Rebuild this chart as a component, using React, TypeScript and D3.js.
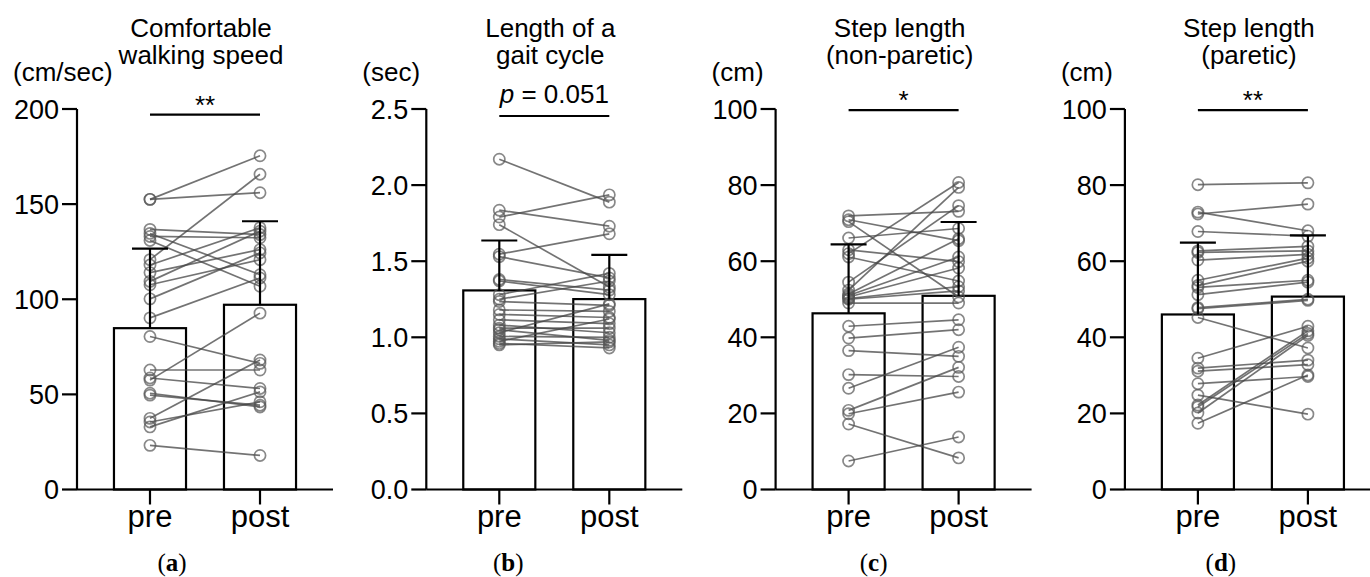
import React from "react";
import * as d3 from "d3";

// groups on the x axis
const groups = ["pre", "post"];

// (a) comfortable walking speed, cm/sec, one entry per subject
const speedPre = [152.5, 152.5, 136.7, 134.6, 133, 130.9, 120.8, 118, 114, 109.4, 107.6, 100.2, 90.2, 80.4, 62.8, 58.6, 57.5, 50.6, 49.6, 37.4, 35.5, 32.9, 23.2];
const speedPost = [175.4, 156, 134, 112.9, 132.3, 106.8, 165.7, 137.6, 126.1, 135.8, 120.8, 124.4, 111.2, 66.3, 62.8, 53.1, 92.7, 43.4, 44.3, 68.1, 46.1, 51.3, 17.9];

// (b) length of a gait cycle, sec
const gaitPre = [2.17, 1.835, 1.79, 1.74, 1.546, 1.53, 1.38, 1.37, 1.28, 1.25, 1.235, 1.18, 1.15, 1.115, 1.08, 1.06, 1.05, 1.03, 1.006, 0.99, 0.973, 0.96, 0.95];
const gaitPost = [1.888, 1.73, 1.936, 1.33, 1.68, 1.39, 1.31, 1.28, 1.42, 1.37, 1.21, 1.17, 1.13, 1.09, 1.03, 1.06, 0.98, 1.22, 1.0, 0.95, 1.12, 0.93, 0.97];

// (c) step length, non-paretic side, cm
const nonParPre = [71.9, 70.9, 70.4, 66.1, 63, 62, 61.1, 54.5, 52.4, 51.4, 51, 50.6, 50.2, 50, 49, 42.9, 39.8, 36.5, 30.2, 26.6, 20.8, 19.9, 17.2, 7.5];
const nonParPost = [73.1, 65.4, 50.6, 68.6, 59.9, 80.7, 54.8, 74.6, 79.4, 65.9, 61.1, 58.2, 53.3, 52.2, 49, 44.6, 42, 35, 29.7, 37.4, 32.1, 25.6, 8.3, 13.8];

// (d) step length, paretic side, cm
const parPre = [80.1, 72.9, 72.4, 67.8, 62.7, 62.3, 60.3, 55, 53.6, 53.1, 51.2, 47.8, 47.5, 45.2, 34.5, 31.9, 31.1, 27.8, 24.8, 22.2, 21.7, 20.1, 17.4];
const parPost = [80.6, 68, 75, 66.6, 63.9, 62.7, 61.8, 60.8, 60, 55, 54.5, 50, 49.7, 37.2, 42.9, 34, 32.8, 29.7, 19.8, 41.7, 41, 40.5, 30.1];

// bar heights (mean) and upper error bars (SD)
const means = [[84.8, 97.1], [1.308, 1.251], [46.3, 50.9], [46, 50.7]];
const sds = [[41.8, 43.9], [0.328, 0.291], [18.1, 19.4], [18.9, 16.1]];

const titles = [
  ["Comfortable", "walking speed"],
  ["Length of a", "gait cycle"],
  ["Step length", "(non-paretic)"],
  ["Step length", "(paretic)"],
];
const units = ["(cm/sec)", "(sec)", "(cm)", "(cm)"];
const yMax = [200, 2.5, 100, 100];
const yStep = [50, 0.5, 20, 20];
const tickDecimals = [0, 1, 0, 0];
const sigText = ["**", "p = 0.051", "*", "**"];
const sigLevel = [197, 2.454, 99.7, 99.7];
const tags = ["a", "b", "c", "d"];

const panelData = [
  [speedPre, speedPost],
  [gaitPre, gaitPost],
  [nonParPre, nonParPost],
  [parPre, parPost],
];

const W = 1370;
const H = 577;
const sans = "'Liberation Sans', Arial, sans-serif";

function Panel({ i }: { i: number }) {
  const x0 = 77 + i * 349.3;
  const axisW = 256;
  const x = d3.scaleBand().domain(groups).range([x0, x0 + axisW]).paddingInner(0.345).paddingOuter(0.336);
  const y = d3.scaleLinear().domain([0, yMax[i]]).range([489.5, 109]);
  const ticks = d3.range(0, yMax[i] + yStep[i] / 2, yStep[i]);
  const fmt = d3.format("." + tickDecimals[i] + "f");
  const cx = (g: string) => (x(g) as number) + x.bandwidth() / 2;
  const [pre, post] = panelData[i];
  const mid = (cx("pre") + cx("post")) / 2;
  const sig = sigText[i];

  return (
    <g>
      {/* titles */}
      <text x={mid - 4} y={37} textAnchor="middle" fontFamily={sans} fontSize={26}>{titles[i][0]}</text>
      <text x={mid - 4} y={64} textAnchor="middle" fontFamily={sans} fontSize={26}>{titles[i][1]}</text>
      <text x={x0 - 64} y={81} fontFamily={sans} fontSize={26}>{units[i]}</text>

      {/* bars */}
      {groups.map((g, k) => (
        <rect key={g} x={x(g)} y={y(means[i][k])} width={x.bandwidth()} height={y(0) - y(means[i][k])}
          fill="#fff" stroke="#000" strokeWidth={2.2} />
      ))}

      {/* paired lines */}
      {pre.map((v, k) => (
        <line key={"l" + k} x1={cx("pre")} y1={y(v)} x2={cx("post")} y2={y(post[k])}
          stroke="#444" strokeOpacity={0.75} strokeWidth={1.7} />
      ))}
      {pre.map((v, k) => (
        <circle key={"a" + k} cx={cx("pre")} cy={y(v)} r={5.6} fill="none" stroke="#555" strokeOpacity={0.7} strokeWidth={1.7} />
      ))}
      {post.map((v, k) => (
        <circle key={"b" + k} cx={cx("post")} cy={y(v)} r={5.6} fill="none" stroke="#555" strokeOpacity={0.7} strokeWidth={1.7} />
      ))}

      {/* error bars */}
      {groups.map((g, k) => {
        const top = y(means[i][k] + sds[i][k]);
        return (
          <g key={"e" + g} stroke="#000" strokeWidth={2.2}>
            <line x1={cx(g)} x2={cx(g)} y1={y(means[i][k])} y2={top} />
            <line x1={cx(g) - 18} x2={cx(g) + 18} y1={top} y2={top} />
          </g>
        );
      })}

      {/* y axis */}
      <line x1={x0} x2={x0} y1={y(0)} y2={y(yMax[i])} stroke="#000" strokeWidth={2.2} />
      {ticks.map((t) => (
        <g key={"t" + t}>
          <line x1={x0 - 15} x2={x0} y1={y(t)} y2={y(t)} stroke="#000" strokeWidth={2.2} />
          <text x={x0 - 18} y={y(t)} dy="0.36em" textAnchor="end" fontFamily={sans} fontSize={27}>{fmt(t)}</text>
        </g>
      ))}

      {/* x axis */}
      <line x1={x0} x2={x0 + axisW} y1={y(0)} y2={y(0)} stroke="#000" strokeWidth={2.2} />
      {groups.map((g) => (
        <g key={"x" + g}>
          <line x1={cx(g)} x2={cx(g)} y1={y(0)} y2={y(0) + 15} stroke="#000" strokeWidth={2.2} />
          <text x={cx(g)} y={527} textAnchor="middle" fontFamily={sans} fontSize={31}>{g}</text>
        </g>
      ))}

      {/* significance */}
      <line x1={cx("pre")} x2={cx("post")} y1={y(sigLevel[i])} y2={y(sigLevel[i])} stroke="#000" strokeWidth={2.2} />
      {sig.startsWith("p ") ? (
        <text x={mid} y={y(sigLevel[i]) - 13} textAnchor="middle" fontFamily={sans} fontSize={26}>
          <tspan fontStyle="italic">p</tspan>{sig.slice(1)}
        </text>
      ) : (
        <text x={mid} y={y(sigLevel[i]) - 1} textAnchor="middle" fontFamily={sans} fontSize={26}>{sig}</text>
      )}

      {/* panel tag */}
      <text x={x0 + [95, 82, 98, 96][i]} y={571} textAnchor="middle" fontFamily="'Liberation Serif', 'Times New Roman', serif" fontSize={25}>
        (<tspan fontWeight="bold">{tags[i]}</tspan>)
      </text>
    </g>
  );
}

export default function App() {
  return (
    <svg width={W} height={H} style={{ position: "absolute", left: 0, top: 0, background: "#fff" }}>
      <rect width={W} height={H} fill="#fff" />
      {tags.map((_, i) => (
        <Panel key={i} i={i} />
      ))}
    </svg>
  );
}
